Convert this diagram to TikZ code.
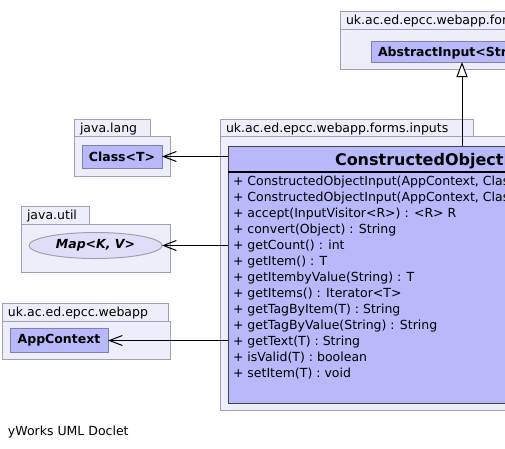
\documentclass[tikz,border=0pt]{standalone}
\usepackage{fontspec}
\setmainfont{DejaVu Sans}
\usetikzlibrary{arrows.meta,shapes.geometric}
\definecolor{pkgfill}{RGB}{238,238,250}
\definecolor{pkgline}{RGB}{160,160,180}
\definecolor{clsfill}{RGB}{184,184,250}
\definecolor{clsline}{RGB}{128,128,176}
\definecolor{mainline}{RGB}{64,64,80}
\definecolor{ellfill}{RGB}{222,222,248}
\begin{document}
\begin{tikzpicture}[x=1pt,y=-1pt,
  pkg/.style={draw=pkgline, fill=pkgfill, line width=1pt},
  clsbox/.style={draw=clsline, fill=clsfill, line width=1pt, inner sep=0pt, outer sep=0pt, font=\bfseries\fontsize{12.5}{14}\selectfont},
  lbl/.style={anchor=base west, inner sep=0pt, outer sep=0pt, font=\fontsize{12.5}{14}\selectfont},
  dep/.style={draw=black, line width=1pt, -{Straight Barb[length=13pt,width=10pt,line width=1pt]}},
  gen/.style={draw=black, line width=1pt, -{Triangle[open,fill=white,length=15pt,width=11pt,line width=1pt]}},
]
\useasboundingbox (0,0) rectangle (505,448);
\clip (0,0) rectangle (505,448);
\fill[white] (0,0) rectangle (505,448);

% packages
\draw[pkg] (340,11) rectangle (560,29);
\draw[pkg] (340,29) rectangle (560,69);
\node[lbl] (p1) at (346,24.5) {uk.ac.ed.epcc.webapp.forms};

\draw[pkg] (220,119) rectangle (473,136);
\draw[pkg] (220,136) rectangle (720,410);
\node[lbl] (p2) at (226,132) {uk.ac.ed.epcc.webapp.forms.inputs};

\draw[pkg] (74,119) rectangle (150,136);
\draw[pkg] (74,136) rectangle (170,176);
\node[lbl] (p3) at (80,132) {java.lang};

\draw[pkg] (21,206) rectangle (89,224);
\draw[pkg] (21,224) rectangle (170,272);
\node[lbl] (p4) at (27,219.5) {java.util};

\draw[pkg] (2,303) rectangle (168,321);
\draw[pkg] (2,321) rectangle (170,359);
\node[lbl] (p5) at (8,316.5) {uk.ac.ed.epcc.webapp};

% classes
\node[clsbox, minimum width=240, minimum height=21, anchor=north west] (abs) at (371,41) {};
\node[lbl, font=\bfseries\fontsize{12.5}{14}\selectfont] (abst) at (378,56) {AbstractInput<String>};

\node[clsbox, minimum width=80, minimum height=23] (cls) at (122,156.5) {Class<T>};
\node[ellipse, draw=pkgline, fill=ellfill, line width=1pt, inner sep=0pt, outer sep=0pt, minimum width=133, minimum height=26, font=\bfseries\itshape\fontsize{12.5}{14}\selectfont] (map) at (95.5,245.5) {Map<K, V>};
\node[clsbox, minimum width=98, minimum height=24] (ctx) at (59,340.5) {AppContext};

\node[draw=mainline, fill=clsfill, line width=1pt, minimum width=465, minimum height=257, anchor=north west, inner sep=0pt, outer sep=0pt] (main) at (228,146) {};
\draw[line width=2pt] (228,172) -- (693,172);
\node[lbl, font=\bfseries\fontsize{16}{18}\selectfont] (title) at (335,165) {ConstructedObjectInput<T>};

\foreach \i/\t in {0/{ConstructedObjectInput(AppContext, Class},
                   1/{ConstructedObjectInput(AppContext, Class},
                   2/{accept(InputVisitor<R>) : <R> R},
                   3/{convert(Object) : String},
                   4/{getCount() : int},
                   5/{getItem() : T},
                   6/{getItembyValue(String) : T},
                   7/{getItems() : Iterator<T>},
                   8/{getTagByItem(T) : String},
                   9/{getTagByValue(String) : String},
                   10/{getText(T) : String},
                   11/{isValid(T) : boolean},
                   12/{setItem(T) : void}}
  \node[lbl] (m\i) at (233,185.5+16*\i) {+ \t};

% connectors
\coordinate (g) at (462,146);
\draw[gen] (g) -- (abs.south -| g);
\draw[dep] (main.west |- cls.east) -- (cls.east);
\draw[dep] (main.west |- map.east) -- (map.east);
\draw[dep] (main.west |- ctx.east) -- (ctx.east);

\node[lbl] (foot) at (8,435) {yWorks UML Doclet};
\end{tikzpicture}
\end{document}
